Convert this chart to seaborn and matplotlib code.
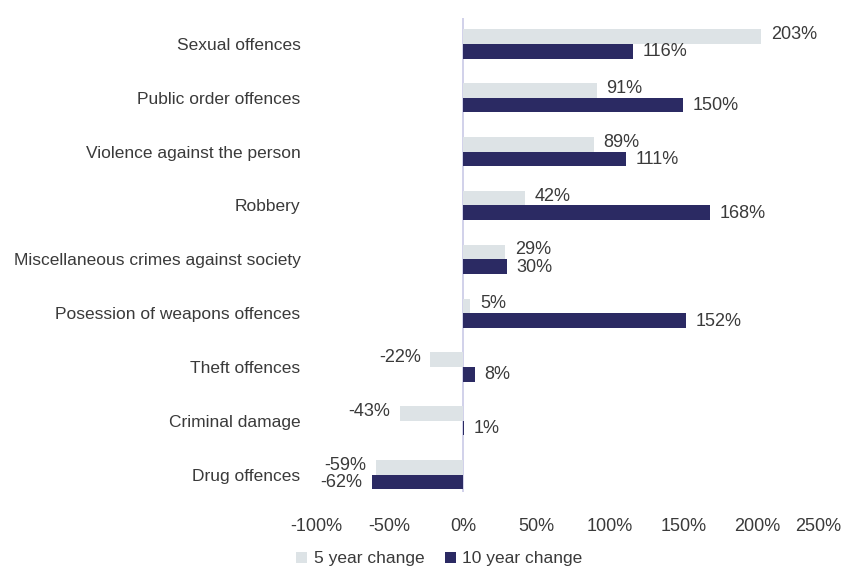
import matplotlib
matplotlib.use("Agg")
import matplotlib.pyplot as plt
import matplotlib.transforms as mtransforms
import seaborn as sns
import pandas as pd

categories = [
    "Sexual offences",
    "Public order offences",
    "Violence against the person",
    "Robbery",
    "Miscellaneous crimes against society",
    "Posession of weapons offences",
    "Theft offences",
    "Criminal damage",
    "Drug offences",
]
five_year = [203, 91, 89, 42, 29, 5, -22, -43, -59]
ten_year = [116, 150, 111, 168, 30, 152, 8, 1, -62]
series_names = ["5 year change", "10 year change"]
x_ticks = [-100, -50, 0, 50, 100, 150, 200, 250]
x_tick_labels = ["-100%", "-50%", "0%", "50%", "100%", "150%", "200%", "250%"]

colors = ["#dde3e6", "#2b2a63"]
text_color = "#3a3a3a"

sns.set_theme(style="white")
plt.rcParams["font.family"] = ["Liberation Sans", "DejaVu Sans"]

df = pd.DataFrame({
    "category": categories * 2,
    "value": five_year + ten_year,
    "series": [series_names[0]] * len(categories) + [series_names[1]] * len(categories),
})

fig = plt.figure(figsize=(8.49, 5.68), dpi=100)
ax = fig.add_axes([0.372, 0.134, 0.606, 0.835])

sns.barplot(data=df, y="category", x="value", hue="series", orient="h",
            palette=colors, order=categories, hue_order=series_names,
            width=0.54, saturation=1, linewidth=0, ax=ax, legend=True)

ax.set_xlim(-100, 250)
ax.set_xticks(x_ticks)
ax.set_xticklabels(x_tick_labels, fontsize=13, color=text_color)
ax.tick_params(axis="x", length=0, pad=19)
ax.tick_params(axis="y", length=0, pad=11, labelsize=12.5, labelcolor=text_color)
# nudge the last tick label inward so it stays inside the figure
last = ax.get_xticklabels()[-1]
last.set_transform(last.get_transform() + mtransforms.ScaledTranslation(-12 / 100, 0, fig.dpi_scale_trans))
ax.set_xlabel("")
ax.set_ylabel("")
for s in ax.spines.values():
    s.set_visible(False)
ax.axvline(0, color="#c9c9e6", lw=1.2, zorder=0)
ax.set_ylim(8.32, -0.49)

for ci, cont in enumerate(ax.containers):
    vals = five_year if ci == 0 else ten_year
    dy = 1.5 if ci == 0 else -0.5
    for bar, v in zip(cont, vals):
        y = bar.get_y() + bar.get_height() / 2
        if v >= 0:
            ax.annotate(f"{v}%", (v, y), xytext=(7, dy), textcoords="offset points",
                        ha="left", va="center", fontsize=13, color=text_color)
        else:
            ax.annotate(f"{v}%", (v, y), xytext=(-7, dy), textcoords="offset points",
                        ha="right", va="center", fontsize=13, color=text_color)

handles, labels = ax.get_legend_handles_labels()
ax.get_legend().remove()
leg = fig.legend(handles, labels, loc="center left", bbox_to_anchor=(0.349, 0.016), ncol=2,
                 frameon=False, fontsize=12.5, handlelength=0.6, handleheight=0.6,
                 handletextpad=0.4, columnspacing=1.2, borderpad=0, borderaxespad=0)
for t in leg.get_texts():
    t.set_color(text_color)

fig.savefig("out.png", dpi=100)
